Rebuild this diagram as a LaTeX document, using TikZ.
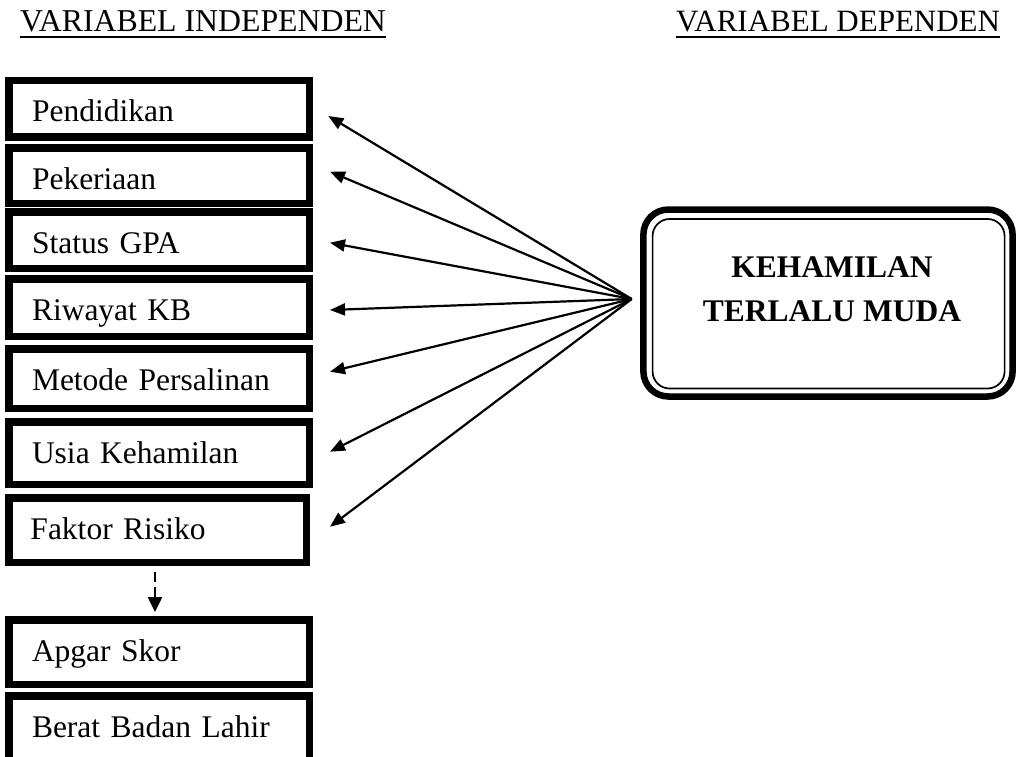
\documentclass[tikz,border=0pt]{standalone}
\usepackage{fontspec}
\setmainfont{Liberation Serif}
\usetikzlibrary{arrows.meta,calc}
\begin{document}
\begin{tikzpicture}[x=1pt,y=-1pt,
  ibox/.style={draw, line width=7.5pt, outer sep=0pt, inner xsep=0pt, inner ysep=0pt,
    text width=254pt, align=left, minimum width=300.5pt, text height=27pt,
    font=\fontsize{31.5}{36}\selectfont},
  ttl/.style={inner sep=0pt, outer sep=0pt, anchor=base west, font=\fontsize{31.5}{36}\selectfont},
  uline/.style={line width=2.4pt},
  arr/.style={line width=2.2pt, -{Triangle[length=15pt,width=12pt]}},
  dasharr/.style={line width=2.5pt, dash pattern=on 10pt off 5pt, -{Triangle[length=15pt,width=14pt]}},
  target/.style={draw, line width=6.5pt, rounded corners=25pt, outer sep=0pt, inner sep=0pt,
    minimum width=369.2pt, minimum height=187pt, font=\fontsize{31.5}{44.5}\selectfont\bfseries},
  innerline/.style={line width=1.7pt, rounded corners=17pt},
]
\useasboundingbox (0,0) rectangle (1017,757);
\clip (0,0) rectangle (1017,757);

% titles
\node[ttl, font=\fontsize{31.8}{36}\selectfont] (tI) at (20,31.7) {VARIABEL INDEPENDEN};
\node[ttl, font=\fontsize{31}{36}\selectfont] (tD) at (676,31.7) {VARIABEL DEPENDEN};
\draw[uline] ($(tI.base west)+(0,5.6)$) -- ($(tI.base east)+(0,5.6)$);
\draw[uline] ($(tD.base west)+(0,5.6)$) -- ($(tD.base east)+(0,5.6)$);

% independent variable boxes
\node[ibox, minimum height=56.5pt, text depth=1pt] (b1) at (159,109) {Pendidikan};
\node[ibox, minimum height=55.5pt, text depth=0pt] (b2) at (159,175.5) {Pekeriaan};
\node[ibox, minimum height=56.5pt, text depth=1pt] (b3) at (159,240) {Status GPA};
\node[ibox, minimum height=57.5pt, text depth=2pt] (b4) at (159,307.5) {Riwayat KB};
\node[ibox, minimum height=59.5pt, text depth=4pt] (b5) at (159,378.5) {Metode Persalinan};
\node[ibox, minimum height=62.5pt, text depth=7pt] (b6) at (159,453) {Usia Kehamilan};
\node[ibox, minimum height=64.5pt, text depth=9pt, minimum width=297.5pt] (b7) at (157.5,530) {Faktor Risiko};
\node[ibox, minimum height=64.5pt, text depth=9pt] (b8) at (159,652) {Apgar Skor};
\node[ibox, minimum height=77.5pt, text depth=22pt] (b9) at (159,734.5) {Berat Badan Lahir};

% dependent variable box
\node[target] (tgt) at (828,303) {\raisebox{26pt}[0pt][0pt]{\hspace*{8pt}\begin{tabular}[t]{@{}c@{}}KEHAMILAN\\TERLALU MUDA\end{tabular}}};
\draw[innerline] ($(tgt.north west)+(9.2,9.5)$) rectangle ($(tgt.south east)+(-8,-8)$);

% arrows
\coordinate (hub) at (631.7,299);
\coordinate (t1) at (328.3,116);
\coordinate (t2) at (330,171.7);
\coordinate (t3) at (330,242.7);
\coordinate (t4) at (330,310);
\coordinate (t5) at (330,371.7);
\coordinate (t6) at (330,451.7);
\coordinate (t7) at (330,526.7);
\foreach \i in {1,...,7} \draw[arr] (hub) -- (t\i);

% dashed arrow
\draw[dasharr] ([xshift=-2.5pt,yshift=-10pt]b7.south) -- ([xshift=-4pt,yshift=7.75pt]b8.north);
\end{tikzpicture}
\end{document}
